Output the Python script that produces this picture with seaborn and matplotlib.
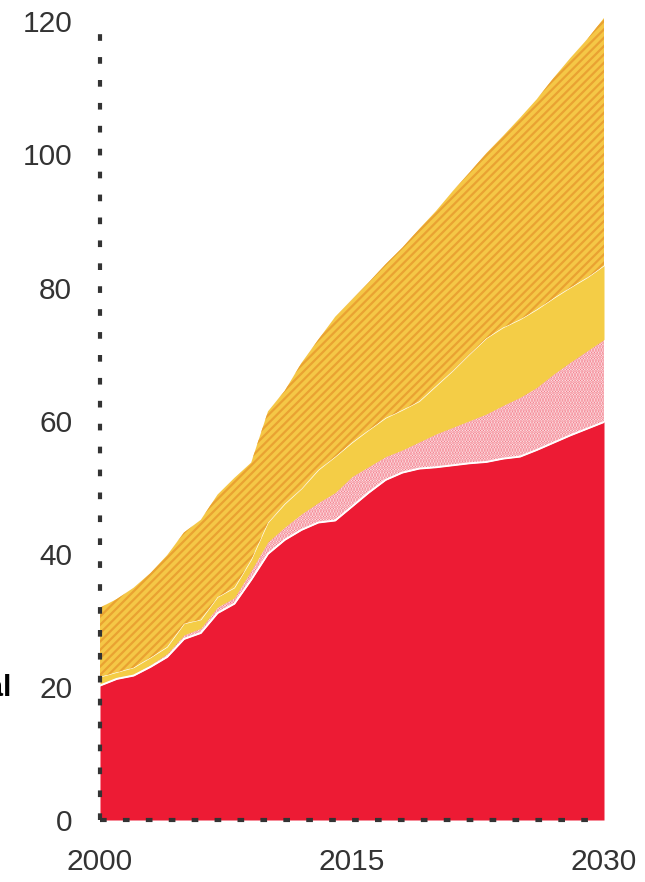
import numpy as np
import matplotlib
matplotlib.use("Agg")
import matplotlib.pyplot as plt
import seaborn as sns

# ------------------------------------------------------------
# data (layer thicknesses)
# ------------------------------------------------------------
years = list(range(2000, 2031))

red = [20.2, 21.2, 21.7, 23.0, 24.5, 27.2, 28.1, 31.1, 32.5, 36.1,
       40.0, 42.1, 43.6, 44.7, 45.0, 47.1, 49.2, 51.1, 52.2, 52.8,
       53.0, 53.3, 53.6, 53.8, 54.3, 54.6, 55.6, 56.7, 57.8, 58.8, 59.8]

red_hatched = [0.2, 0.2, 0.2, 0.3, 0.5, 0.6, 0.7, 0.9, 0.9, 1.4,
               1.8, 1.9, 2.4, 3.0, 4.2, 4.5, 3.9, 3.5, 3.4, 4.0,
               5.0, 5.7, 6.4, 7.2, 8.0, 8.9, 9.4, 10.3, 11.0, 11.7, 12.4]

yellow = [1.1, 0.8, 1.0, 1.1, 1.0, 1.7, 1.3, 1.5, 1.5, 1.6,
          2.9, 3.5, 3.8, 4.9, 5.4, 5.1, 5.5, 5.8, 6.0, 6.1,
          7.2, 8.5, 10.0, 11.4, 11.7, 11.7, 11.7, 11.4, 11.2, 11.0, 11.1]

yellow_hatched = [10.4, 11.0, 12.0, 12.7, 13.8, 13.7, 15.0, 15.4, 16.5, 14.6,
                  16.7, 17.0, 18.9, 19.6, 21.0, 21.5, 22.2, 23.1, 24.4, 25.9,
                  26.3, 27.0, 27.3, 27.8, 28.8, 30.3, 31.6, 33.1, 34.5, 35.8, 37.2]

x_ticks = [2000, 2015, 2030]
y_ticks = [0, 20, 40, 60, 80, 100, 120]

# ------------------------------------------------------------
# style
# ------------------------------------------------------------
sns.set_theme(style="white")
plt.rcParams["font.family"] = ["Liberation Sans", "DejaVu Sans"]
plt.rcParams["hatch.linewidth"] = 1.6

RED = "#ED1B34"
PINK_DOT = "#F27382"
YELLOW = "#F4CD46"
YELLOW_BG = "#F5C746"
ORANGE = "#E9A232"
TEXT = "#333333"

fig = plt.figure(figsize=(6.45, 8.82), dpi=100)
ax = fig.add_axes([100 / 645, 62 / 882, 504 / 645, 802 / 882])

# ------------------------------------------------------------
# stacked areas
# ------------------------------------------------------------
polys = ax.stackplot(
    years, red, red_hatched, yellow, yellow_hatched,
    colors=[RED, "white", YELLOW, YELLOW_BG],
    linewidth=0,
)

polys[1].set_hatch("......")
polys[1].set_edgecolor(PINK_DOT)
polys[1].set_linewidth(0)

polys[3].set_hatch("////")
polys[3].set_edgecolor(ORANGE)
polys[3].set_linewidth(0)

# white edge on top of the solid red
sns.lineplot(x=years, y=red, color="white", linewidth=1.4, ax=ax)

# ------------------------------------------------------------
# axes
# ------------------------------------------------------------
ax.set_xlim(2000, 2030)
ax.set_ylim(0, 120.5)
ax.set_xticks(x_ticks)
ax.set_yticks(y_ticks)
ax.tick_params(axis="both", length=0, labelsize=21.5, colors=TEXT)
ax.tick_params(axis="x", pad=20)
ax.tick_params(axis="y", pad=20)
ax.grid(False)

for side in ["top", "right"]:
    ax.spines[side].set_visible(False)
for side in ["left", "bottom"]:
    sp = ax.spines[side]
    sp.set_color(TEXT)
    sp.set_linewidth(3)
    sp.set_capstyle("butt")
    sp.set_linestyle((0, (1.6, 3.9)))
    sp.set_zorder(5)

fig.text(12 / 645, 1 - 688 / 882, "Total", ha="right", va="center",
         fontsize=21.5, fontweight="bold", color="black")

fig.savefig("out.png", dpi=100)
